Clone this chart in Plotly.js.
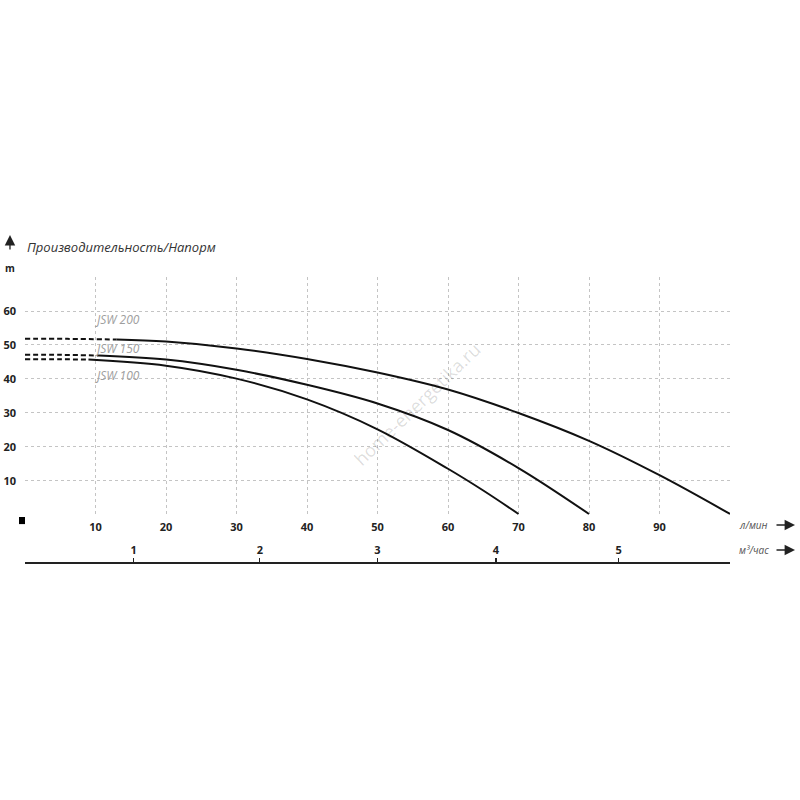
<!DOCTYPE html>
<html>
<head>
<meta charset="utf-8">
<script src="https://cdn.plot.ly/plotly-3.0.1.min.js"></script>
<style>html,body{margin:0;padding:0;background:#fff;}#chart{width:800px;height:800px;}</style>
</head>
<body>
<div id="chart"></div>
<script>
// ---- data (flow in л/мин, head in m) ----
const seriesNames = ['JSW 200', 'JSW 150', 'JSW 100'];

const flow200Dash = [0, 6, 13];
const head200Dash = [51.8, 51.8, 51.6];
const flow200 = [13, 20, 30, 40, 50, 60, 70, 80, 90, 100];
const head200 = [51.6, 51.0, 49.0, 45.9, 41.9, 36.9, 30.0, 21.8, 11.7, 0.3];

const flow150Dash = [0, 5, 10.5];
const head150Dash = [47.1, 47.1, 46.9];
const flow150 = [10.5, 20, 30, 40, 50, 60, 70, 80];
const head150 = [46.9, 45.7, 42.7, 38.3, 32.8, 25.0, 13.8, 0.3];

const flow100Dash = [0, 5, 9];
const head100Dash = [45.8, 45.8, 45.7];
const flow100 = [9, 20, 30, 40, 50, 60, 65, 70];
const head100 = [45.7, 43.9, 40.1, 34.0, 25.2, 13.6, 7.2, 0.3];

const flowTicks = [0, 10, 20, 30, 40, 50, 60, 70, 80, 90, 100];
const flowTickText = ['', '10', '20', '30', '40', '50', '60', '70', '80', '90', ''];
const headTicks = [0, 10, 20, 30, 40, 50, 60, 70];
const headTickText = ['', '10', '20', '30', '40', '50', '60', ''];
const m3Ticks = ['1', '2', '3', '4', '5'];
const m3TickPos = [15.4, 33.3, 50, 66.8, 84.2]; // positions on л/мин scale as drawn

const titleText = 'Производительность/Напорм';
const unitY = 'm';
const unitX1 = 'л/мин';
const unitX2 = 'м³/час';
const watermark = 'home-energetika.ru';

// ---- traces ----
const lineColor = '#111';
const dashStyle = '5px,3px';
function dashed(x, y) {
  return {x: x, y: y, type: 'scatter', mode: 'lines', xaxis: 'x', yaxis: 'y',
    line: {color: lineColor, width: 2, dash: dashStyle, shape: 'spline'}, hoverinfo: 'skip', showlegend: false};
}
function solid(x, y, name) {
  return {x: x, y: y, type: 'scatter', mode: 'lines', name: name, xaxis: 'x', yaxis: 'y',
    line: {color: lineColor, width: 2, shape: 'spline', smoothing: 1}, showlegend: false};
}
const traces = [
  dashed(flow200Dash, head200Dash), solid(flow200, head200, seriesNames[0]),
  dashed(flow150Dash, head150Dash), solid(flow150, head150, seriesNames[1]),
  dashed(flow100Dash, head100Dash), solid(flow100, head100, seriesNames[2]),
  // invisible trace to bind the secondary axis
  {x: [0, 100], y: [null, null], type: 'scatter', mode: 'lines', xaxis: 'x2', yaxis: 'y', showlegend: false, hoverinfo: 'skip'}
];

const tickFont = {family: 'Open Sans, sans-serif', size: 11, color: '#222', weight: 700};
const labelFont = {family: 'Open Sans, sans-serif', size: 12, color: '#9e9e9e', style: 'italic'};
const unitFont = {family: 'Open Sans, sans-serif', size: 10, color: '#555', style: 'italic'};

const layout = {
  width: 800, height: 800,
  margin: {l: 25, r: 70, t: 277, b: 238, pad: 0},
  paper_bgcolor: '#fff', plot_bgcolor: '#fff',
  showlegend: false,
  xaxis: {
    range: [0, 100], tickvals: flowTicks, ticktext: flowTickText,
    showgrid: true, gridcolor: '#c4c4c4', griddash: 'dot', gridwidth: 1,
    zeroline: false, showline: false, ticks: '', ticklabelstandoff: 4,
    tickfont: tickFont, anchor: 'y', fixedrange: true
  },
  xaxis2: {
    range: [0, 100], overlaying: 'x', anchor: 'free', position: 0, side: 'top',
    tickvals: m3TickPos, ticktext: m3Ticks,
    showgrid: false, zeroline: false, showline: true, linecolor: '#222', linewidth: 1.5,
    ticks: 'outside', ticklen: 4, tickwidth: 1.2, tickcolor: '#222',
    tickfont: tickFont, fixedrange: true
  },
  yaxis: {
    domain: [0.165, 1], range: [0, 70], tickvals: headTicks, ticktext: headTickText,
    showgrid: true, gridcolor: '#c4c4c4', griddash: 'dot', gridwidth: 1,
    zeroline: false, showline: false, ticks: '', ticklabelstandoff: 8,
    tickfont: tickFont, fixedrange: true
  },
  shapes: [
    {type: 'rect', xref: 'paper', yref: 'paper', x0: -0.0085, x1: 0, y0: 0.133, y1: 0.158,
     fillcolor: '#000', line: {width: 0}}
  ],
  annotations: [
    {text: titleText, xref: 'paper', yref: 'paper', x: 0, y: 1.106, xanchor: 'left', yanchor: 'middle',
     showarrow: false, font: {family: 'Open Sans, sans-serif', size: 13, color: '#333', style: 'italic'}},
    {text: unitY, xref: 'paper', yref: 'paper', x: -0.0213, y: 1.0326, xanchor: 'center', yanchor: 'middle',
     showarrow: false, font: {family: 'Open Sans, sans-serif', size: 10, color: '#222', weight: 700}},
    // up arrow
    {text: '', xref: 'paper', yref: 'paper', x: -0.0213, y: 1.147, showarrow: true,
     ax: 0, ay: 16, arrowhead: 2, arrowsize: 1.6, arrowwidth: 1.3, arrowcolor: '#222'},
    // right arrows
    {text: '', xref: 'paper', yref: 'paper', x: 1.0922, y: 0.1298, showarrow: true, ax: -20, ay: 0,
     arrowhead: 2, arrowsize: 1.6, arrowwidth: 1.3, arrowcolor: '#222'},
    {text: '', xref: 'paper', yref: 'paper', x: 1.0922, y: 0.0421, showarrow: true, ax: -20, ay: 0,
     arrowhead: 2, arrowsize: 1.6, arrowwidth: 1.3, arrowcolor: '#222'},
    {text: unitX1, xref: 'paper', yref: 'paper', x: 1.0099, y: 0.1298, xanchor: 'left', yanchor: 'middle',
     showarrow: false, font: unitFont},
    {text: unitX2, xref: 'paper', yref: 'paper', x: 1.0099, y: 0.0421, xanchor: 'left', yanchor: 'middle',
     showarrow: false, font: unitFont},
    // series labels
    {text: seriesNames[0], xref: 'x', yref: 'y', x: 9.6, y: 57.4, xanchor: 'left', yanchor: 'middle', showarrow: false, font: labelFont},
    {text: seriesNames[1], xref: 'x', yref: 'y', x: 9.6, y: 49.1, xanchor: 'left', yanchor: 'middle', showarrow: false, font: labelFont},
    {text: seriesNames[2], xref: 'x', yref: 'y', x: 9.6, y: 41.1, xanchor: 'left', yanchor: 'middle', showarrow: false, font: labelFont},
    // watermark
    {text: watermark, xref: 'paper', yref: 'paper', x: 0.556, y: 0.554, xanchor: 'center', yanchor: 'middle',
     textangle: -44, showarrow: false, font: {family: 'Open Sans, sans-serif', size: 18, color: 'rgba(0,0,0,0.14)'}}
  ]
};

Plotly.newPlot('chart', traces, layout, {staticPlot: true, displayModeBar: false});
</script>
</body>
</html>
